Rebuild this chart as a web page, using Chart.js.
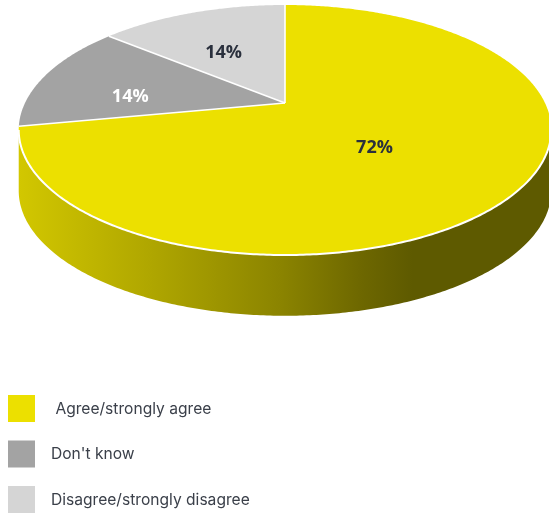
<!DOCTYPE html>
<html>
<head>
<meta charset="utf-8">
<style>
  html, body { margin: 0; padding: 0; background: #ffffff; }
  canvas { display: block; }
</style>
<script src="https://cdn.jsdelivr.net/npm/chart.js@4.4.1/dist/chart.umd.min.js"></script>
</head>
<body>
<canvas id="chart" width="549" height="513"></canvas>
<script>
// Survey answers and their shares (percent)
const categories = [' Agree/strongly agree', "Don't know", 'Disagree/strongly disagree'];
const shares = [72, 14, 14];
const sliceColors = ['#ECE000', '#A3A3A3', '#D5D5D5'];
const labelColors = ['#2A303D', '#FFFFFF', '#2A303D'];

// Tilted-disc view: horizontal / vertical stretch of the flat pie, perspective
// strength, and slab thickness (all relative to the pie radius)
const view = { stretchX: 2.653, stretchY: 1.216, perspective: -0.216, depth: 0.62 };

// Side-wall shading along the width of the disc: [position, brightness factor]
const wallShade = [[0, 0.89], [0.25, 0.74], [0.49, 0.59], [0.645, 0.46], [0.74, 0.40], [1, 0.40]];

function project(el, angle, frac) {
  const u = Math.cos(angle) * frac;
  const v = Math.sin(angle) * frac;
  const den = 1 + view.perspective * v;
  return {
    x: el.x + view.stretchX * el.outerRadius * u / den,
    y: el.y + view.stretchY * el.outerRadius * v / den
  };
}

function shade(hex, k) {
  const n = parseInt(hex.slice(1), 16);
  const r = Math.round(((n >> 16) & 255) * k);
  const g = Math.round(((n >> 8) & 255) * k);
  const b = Math.round((n & 255) * k);
  return `rgb(${r},${g},${b})`;
}

function arcPoints(el, a, b, frac) {
  const pts = [];
  const steps = Math.max(2, Math.ceil(Math.abs(b - a) / 0.01));
  for (let i = 0; i <= steps; i++) {
    pts.push(project(el, a + (b - a) * i / steps, frac));
  }
  return pts;
}

const pie3d = {
  id: 'pie3d',
  beforeDatasetsDraw(chart) {
    const ctx = chart.ctx;
    const arcs = chart.getDatasetMeta(0).data;
    if (!arcs.length) return false;
    const ref = arcs[0];
    const R = ref.outerRadius;
    const depthPx = view.depth * R;

    // Visible (front) part of the rim lies between the two horizontal extremes
    const edge = Math.asin(-view.perspective);
    const frontStart = edge, frontEnd = Math.PI - edge;
    const halfW = view.stretchX * R / Math.sqrt(1 - view.perspective * view.perspective);

    ctx.save();

    // Rim walls
    arcs.forEach((el, i) => {
      const a = Math.max(el.startAngle, frontStart);
      const b = Math.min(el.endAngle, frontEnd);
      if (b <= a) return;
      const top = arcPoints(el, a, b, 1);
      const grad = ctx.createLinearGradient(el.x - halfW, 0, el.x + halfW, 0);
      wallShade.forEach(([pos, k]) => grad.addColorStop(pos, shade(sliceColors[i], k)));
      ctx.beginPath();
      top.forEach((p, j) => j ? ctx.lineTo(p.x, p.y) : ctx.moveTo(p.x, p.y));
      for (let j = top.length - 1; j >= 0; j--) ctx.lineTo(top[j].x, top[j].y + depthPx);
      ctx.closePath();
      ctx.fillStyle = grad;
      ctx.fill();
    });

    // Top faces
    arcs.forEach((el, i) => {
      const pts = arcPoints(el, el.startAngle, el.endAngle, 1);
      ctx.beginPath();
      ctx.moveTo(el.x, el.y);
      pts.forEach(p => ctx.lineTo(p.x, p.y));
      ctx.closePath();
      ctx.fillStyle = sliceColors[i];
      ctx.fill();
    });

    // White separators and rim highlight
    ctx.strokeStyle = '#FFFFFF';
    ctx.lineWidth = 1.6;
    ctx.lineJoin = 'round';
    arcs.forEach((el) => {
      const p = project(el, el.startAngle, 1);
      ctx.beginPath();
      ctx.moveTo(el.x, el.y);
      ctx.lineTo(p.x, p.y);
      ctx.stroke();
    });
    const rim = arcPoints(ref, frontStart, frontEnd, 1);
    ctx.beginPath();
    rim.forEach((p, j) => j ? ctx.lineTo(p.x, p.y) : ctx.moveTo(p.x, p.y));
    ctx.lineWidth = 2;
    ctx.stroke();

    // Percentage labels
    const total = shares.reduce((s, v) => s + v, 0);
    ctx.font = 'bold 18px "Open Sans", sans-serif';
    ctx.textAlign = 'center';
    ctx.textBaseline = 'middle';
    arcs.forEach((el, i) => {
      const value = chart.data.datasets[0].data[i];
      const mid = (el.startAngle + el.endAngle) / 2;
      const p = project(el, mid, 0.7 - 0.4 * value / total);
      ctx.fillStyle = labelColors[i];
      ctx.fillText(Math.round(value / total * 100) + '%', p.x + 2, p.y + 12);
    });

    ctx.restore();
    return false;
  },
  afterDraw(chart) {
    const ctx = chart.ctx;
    const colors = chart.data.datasets[0].backgroundColor;
    ctx.save();
    ctx.font = '15.6px Inter, sans-serif';
    ctx.textAlign = 'left';
    ctx.textBaseline = 'middle';
    chart.data.labels.forEach((label, i) => {
      const y = 395 + i * 45.5;
      ctx.fillStyle = colors[i];
      ctx.fillRect(8, y, 27, 27);
      ctx.fillStyle = '#3B404A';
      ctx.fillText(label, 51, y + 14);
    });
    ctx.restore();
  }
};

new Chart(document.getElementById('chart'), {
  type: 'pie',
  data: {
    labels: categories,
    datasets: [{
      data: shares,
      backgroundColor: sliceColors,
      borderWidth: 0
    }]
  },
  options: {
    responsive: false,
    animation: false,
    devicePixelRatio: 1,
    layout: { padding: { left: 187, right: 166, top: 5, bottom: 312 } },
    plugins: {
      legend: { display: false },
      tooltip: { enabled: false }
    }
  },
  plugins: [pie3d]
});
</script>
</body>
</html>
